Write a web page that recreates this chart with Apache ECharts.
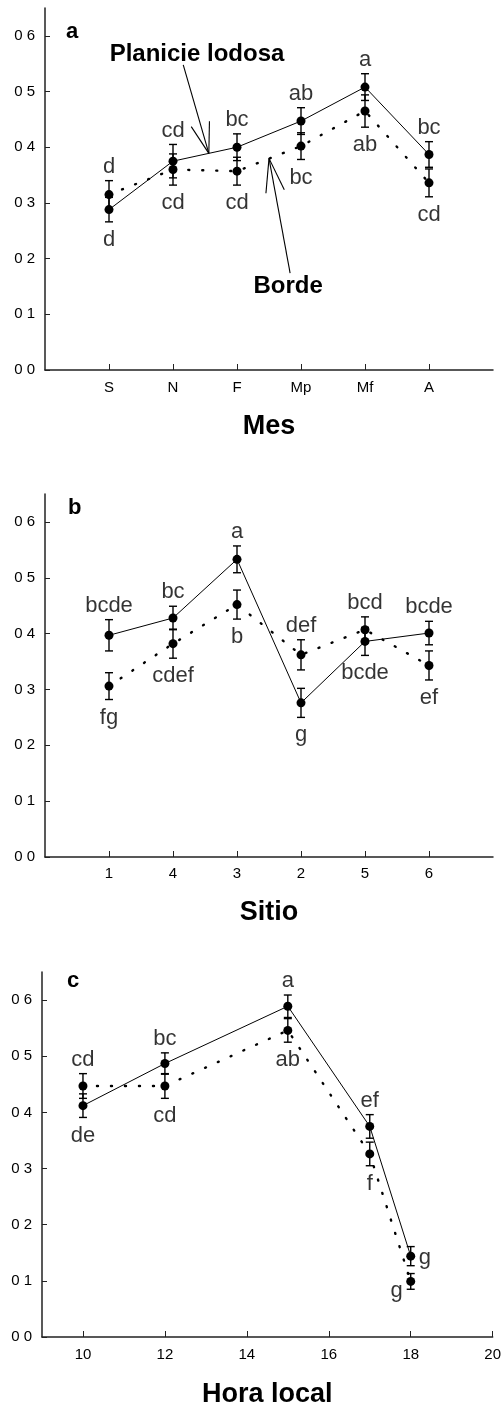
<!DOCTYPE html>
<html>
<head>
<meta charset="utf-8">
<script src="https://cdn.jsdelivr.net/npm/echarts@6/dist/echarts.min.js"></script>
<style>
  html, body { margin: 0; padding: 0; background: #fff; }
  #chart { width: 504px; height: 1411px; }
</style>
</head>
<body>
<div id="chart"></div>
<script>
// ---- Panel a: month ----
const mesCategories = ['S', 'N', 'F', 'Mp', 'Mf', 'A'];
const mesPlanicie = [0.288, 0.375, 0.400, 0.447, 0.508, 0.387];
const mesPlanicieErr = [0.022, 0.030, 0.024, 0.024, 0.024, 0.023];
const mesBorde = [0.315, 0.360, 0.357, 0.402, 0.465, 0.336];
const mesBordeErr = [0.025, 0.028, 0.025, 0.024, 0.029, 0.025];
const mesPlanicieLetters = ['d', 'cd', 'bc', 'ab', 'a', 'bc'];
const mesBordeLetters = ['d', 'cd', 'cd', 'bc', 'ab', 'cd'];

// ---- Panel b: site ----
const sitioCategories = ['1', '4', '3', '2', '5', '6'];
const sitioPlanicie = [0.397, 0.428, 0.533, 0.276, 0.386, 0.401];
const sitioPlanicieErr = [0.028, 0.021, 0.024, 0.026, 0.025, 0.021];
const sitioBorde = [0.306, 0.382, 0.452, 0.362, 0.407, 0.343];
const sitioBordeErr = [0.024, 0.026, 0.026, 0.027, 0.023, 0.026];
const sitioPlanicieLetters = ['bcde', 'bc', 'a', 'g', 'bcde', 'bcde'];
const sitioBordeLetters = ['fg', 'cdef', 'b', 'def', 'bcd', 'ef'];

// ---- Panel c: local hour ----
const horas = [10, 12, 15, 17, 18];
const horaPlanicie = [0.412, 0.487, 0.589, 0.375, 0.144];
const horaPlanicieErr = [0.021, 0.019, 0.020, 0.021, 0.017];
const horaBorde = [0.447, 0.447, 0.546, 0.326, 0.099];
const horaBordeErr = [0.022, 0.022, 0.021, 0.021, 0.014];
const horaPlanicieLetters = ['de', 'bc', 'a', 'ef', 'g'];
const horaBordeLetters = ['cd', 'cd', 'ab', 'f', 'g'];

// ---- Axis ticks ----
const yTicks = [0, 0.1, 0.2, 0.3, 0.4, 0.5, 0.6];
const categoryTicks = [1, 2, 3, 4, 5, 6];
const horaTicks = [10, 12, 14, 16, 18, 20];

const FONT = '"Liberation Sans", Arial, Helvetica, sans-serif';
const INK = '#000';
const AXIS = '#222';

const chart = echarts.init(document.getElementById('chart'), null, { renderer: 'canvas' });

function yAxisFor(gridIndex) {
  return {
    type: 'value', gridIndex, min: 0, max: 0.65,
    axisLine: { show: true, lineStyle: { color: AXIS, width: 1.5 } },
    axisTick: { show: true, inside: true, length: 5, customValues: yTicks, lineStyle: { color: AXIS, width: 1 } },
    axisLabel: {
      customValues: yTicks, margin: 10, color: INK, fontFamily: FONT, fontSize: 15,
      formatter: v => v.toFixed(1).replace('.', ' ')
    },
    splitLine: { show: false }
  };
}

function xAxisFor(gridIndex, opts) {
  return Object.assign({
    type: 'value', gridIndex,
    nameLocation: 'middle',
    nameTextStyle: { color: INK, fontFamily: FONT, fontSize: 27, fontWeight: 'bold' },
    axisLine: { show: true, onZero: false, lineStyle: { color: AXIS, width: 1.5 } },
    axisTick: { show: true, inside: true, length: 6, lineStyle: { color: AXIS, width: 1 } },
    splitLine: { show: false }
  }, opts);
}

// x positions 1..n for category panels
const idx = arr => arr.map((_, i) => i + 1);

function errorBarItem(params, api) {
  const x = api.value(0);
  const pLo = api.coord([x, api.value(1)]);
  const pHi = api.coord([x, api.value(2)]);
  const hw = 4;
  const st = { stroke: INK, lineWidth: 1.4 };
  return {
    type: 'group',
    children: [
      { type: 'line', shape: { x1: pLo[0], y1: pLo[1], x2: pHi[0], y2: pHi[1] }, style: st },
      { type: 'line', shape: { x1: pLo[0] - hw, y1: pLo[1], x2: pLo[0] + hw, y2: pLo[1] }, style: st },
      { type: 'line', shape: { x1: pHi[0] - hw, y1: pHi[1], x2: pHi[0] + hw, y2: pHi[1] }, style: st }
    ]
  };
}

function panelSeries(p, xs, solid, solidErr, dotted, dottedErr, solidLetters, dottedLetters, sidePlacement) {
  const series = [];
  series.push({
    type: 'custom', xAxisIndex: p, yAxisIndex: p, renderItem: errorBarItem,
    encode: { x: 0, y: [1, 2] }, z: 2, silent: true,
    data: xs.map((x, i) => [x, solid[i] - solidErr[i], solid[i] + solidErr[i]])
      .concat(xs.map((x, i) => [x, dotted[i] - dottedErr[i], dotted[i] + dottedErr[i]]))
  });
  series.push({
    name: 'Borde', type: 'line', xAxisIndex: p, yAxisIndex: p, z: 3,
    data: xs.map((x, i) => [x, dotted[i]]),
    symbol: 'circle', symbolSize: 9, itemStyle: { color: INK },
    lineStyle: { color: INK, width: 2.4, type: [1, 13], cap: 'round' }
  });
  series.push({
    name: 'Planicie lodosa', type: 'line', xAxisIndex: p, yAxisIndex: p, z: 4,
    data: xs.map((x, i) => [x, solid[i]]),
    symbol: 'circle', symbolSize: 9, itemStyle: { color: INK },
    lineStyle: { color: INK, width: 1 }
  });
  // letters: the higher mean of each pair is labelled above, the lower below
  const labelData = [];
  const addLabel = (x, v, e, other, text, side) => {
    let position = v >= other ? 'top' : 'bottom';
    let y = v >= other ? v + e : v - e;
    let distance = position === 'top' ? 3 : 7;
    let offset = [0, 0];
    if (side) { position = side; y = v; distance = 8; offset = side === 'left' ? [0, 10] : [0, 2]; }
    labelData.push({ value: [x, y], label: { formatter: text, position, distance, offset } });
  };
  xs.forEach((x, i) => {
    const side = sidePlacement && sidePlacement[i];
    addLabel(x, solid[i], solidErr[i], dotted[i], solidLetters[i], side ? side[0] : null);
    addLabel(x, dotted[i], dottedErr[i], solid[i], dottedLetters[i], side ? side[1] : null);
  });
  series.push({
    type: 'scatter', xAxisIndex: p, yAxisIndex: p, symbolSize: 0, silent: true, z: 5,
    label: { show: true, color: INK, fontFamily: FONT, fontSize: 22 },
    data: labelData
  });
  return series;
}

const horaSide = [null, null, null, null, ['right', 'left']];

const option = {
  backgroundColor: '#fff',
  animation: false,
  grid: [
    { left: 45, top: 8, width: 448, height: 362 },
    { left: 45, top: 494, width: 448, height: 363 },
    { left: 42, top: 972, width: 453, height: 365 }
  ],
  xAxis: [
    xAxisFor(0, {
      min: 0, max: 7, name: 'Mes', nameGap: 43,
      axisTick: { show: true, inside: true, length: 6, customValues: categoryTicks, lineStyle: { color: AXIS, width: 1 } },
      axisLabel: { customValues: categoryTicks, margin: 10, color: INK, fontFamily: FONT, fontSize: 15,
        formatter: v => mesCategories[Math.round(v) - 1] || '' }
    }),
    xAxisFor(1, {
      min: 0, max: 7, name: 'Sitio', nameGap: 42,
      axisTick: { show: true, inside: true, length: 6, customValues: categoryTicks, lineStyle: { color: AXIS, width: 1 } },
      axisLabel: { customValues: categoryTicks, margin: 9, color: INK, fontFamily: FONT, fontSize: 15,
        formatter: v => sitioCategories[Math.round(v) - 1] || '' }
    }),
    xAxisFor(2, {
      min: 9, max: 20, name: 'Hora local', nameGap: 44,
      axisTick: { show: true, inside: true, length: 6, customValues: horaTicks, lineStyle: { color: AXIS, width: 1 } },
      axisLabel: { customValues: horaTicks, margin: 10, color: INK, fontFamily: FONT, fontSize: 15 }
    })
  ],
  yAxis: [yAxisFor(0), yAxisFor(1), yAxisFor(2)],
  series: []
    .concat(panelSeries(0, idx(mesCategories), mesPlanicie, mesPlanicieErr, mesBorde, mesBordeErr, mesPlanicieLetters, mesBordeLetters))
    .concat(panelSeries(1, idx(sitioCategories), sitioPlanicie, sitioPlanicieErr, sitioBorde, sitioBordeErr, sitioPlanicieLetters, sitioBordeLetters))
    .concat(panelSeries(2, horas, horaPlanicie, horaPlanicieErr, horaBorde, horaBordeErr, horaPlanicieLetters, horaBordeLetters, horaSide))
};

chart.setOption(option);

// ---- Panel letters and the two callouts of panel a ----
const panelLetterStyle = { fill: INK, font: 'bold 22px ' + FONT, textVerticalAlign: 'middle' };

function arrowElements(tail, tip, armLen, armAngle) {
  const ang = Math.atan2(tail[1] - tip[1], tail[0] - tip[0]);
  const st = { stroke: INK, lineWidth: 1.1 };
  const arm = s => ({
    type: 'line', silent: true,
    shape: { x1: tip[0], y1: tip[1], x2: tip[0] + armLen * Math.cos(ang + s * armAngle), y2: tip[1] + armLen * Math.sin(ang + s * armAngle) },
    style: st
  });
  return [
    { type: 'line', silent: true, shape: { x1: tail[0], y1: tail[1], x2: tip[0], y2: tip[1] }, style: st },
    arm(1), arm(-1)
  ];
}

const toPx = pt => chart.convertToPixel({ gridIndex: 0 }, pt);
const planicieText = toPx([2.375, 0.566]);
const planicieTail = toPx([2.16, 0.548]);
const planicieTip = toPx([2.56, 0.389]);
const bordeText = toPx([3.8, 0.151]);
const bordeTail = toPx([3.83, 0.174]);
const bordeTip = toPx([3.5, 0.380]);

const calloutStyle = { fill: INK, font: 'bold 24px ' + FONT, textAlign: 'center', textVerticalAlign: 'middle' };

chart.setOption({
  graphic: [
    { type: 'text', left: 66, top: 21, style: Object.assign({ text: 'a' }, panelLetterStyle) },
    { type: 'text', left: 68, top: 497, style: Object.assign({ text: 'b' }, panelLetterStyle) },
    { type: 'text', left: 67, top: 970, style: Object.assign({ text: 'c' }, panelLetterStyle) },
    { type: 'text', x: planicieText[0], y: planicieText[1], style: Object.assign({ text: 'Planicie lodosa' }, calloutStyle) },
    { type: 'text', x: bordeText[0], y: bordeText[1], style: Object.assign({ text: 'Borde' }, calloutStyle) }
  ]
    .concat(arrowElements(planicieTail, planicieTip, 32, 0.30))
    .concat(arrowElements(bordeTail, bordeTip, 35, 0.27))
});
</script>
</body>
</html>
